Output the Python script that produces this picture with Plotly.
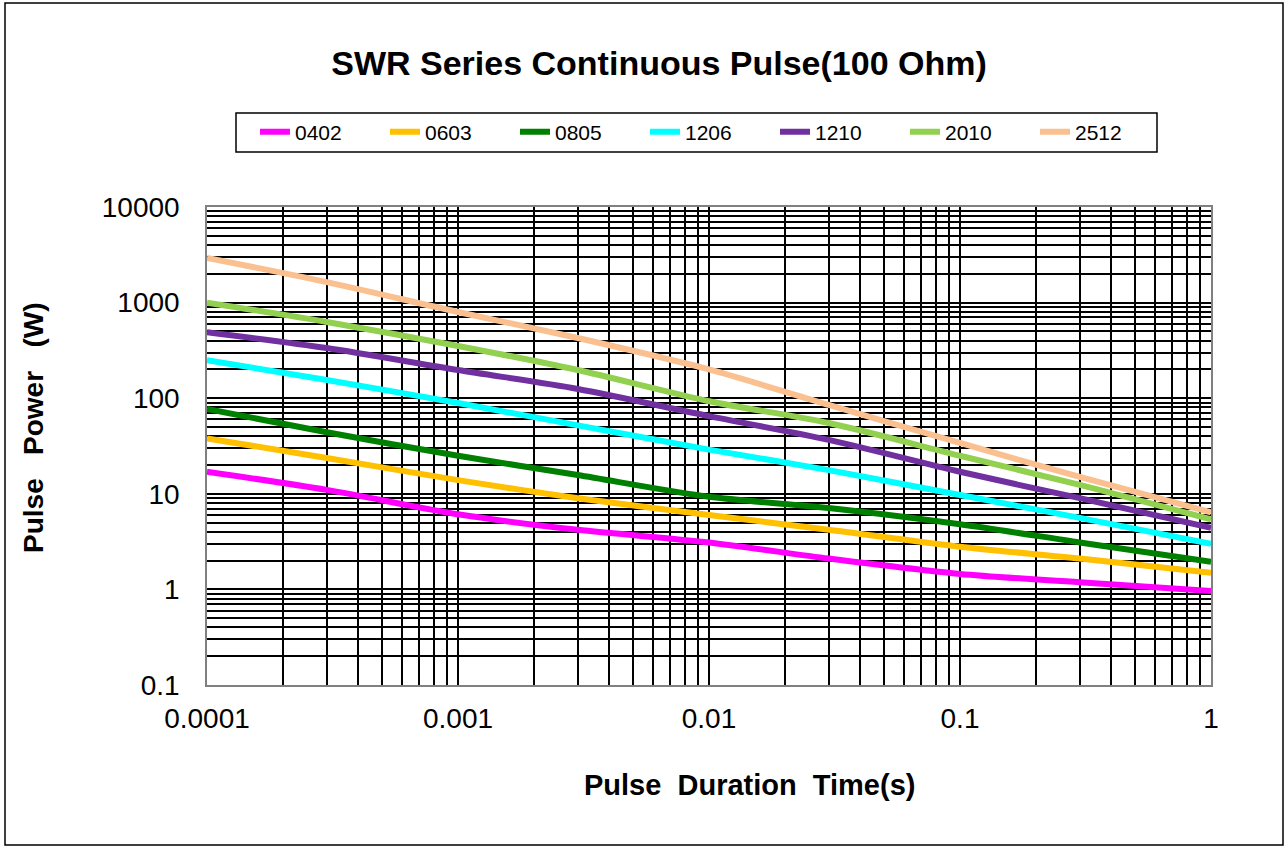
import plotly.graph_objects as go

# ---- data ----
pulse_time = [1e-4, 3e-4, 1e-3, 3e-3, 1e-2, 3e-2, 1e-1, 3e-1, 1.0]
series_names = ["0402", "0603", "0805", "1206", "1210", "2010", "2512"]
p_0402 = [17, 11, 6.1, 4.2, 3.1, 2.1, 1.45, 1.19, 0.96]
p_0603 = [38, 23.7, 13.9, 9.0, 6.0, 4.2, 2.8, 2.1, 1.49]
p_0805 = [77, 44, 25, 15.7, 9.3, 7.1, 4.8, 3.1, 1.94]
p_1206 = [250, 155, 89, 52, 29, 17.7, 9.7, 5.6, 3.0]
p_1210 = [490, 335, 197, 125, 65, 36.6, 17, 9.0, 4.4]
p_2010 = [1000, 627, 352, 197, 93, 55, 25, 12.4, 5.4]
p_2512 = [2930, 1640, 798, 426, 200, 85, 34, 15, 6.4]
series_values = [p_0402, p_0603, p_0805, p_1206, p_1210, p_2010, p_2512]
colors = ["#FF00FF", "#FFC000", "#008000", "#00FFFF", "#7030A0", "#92D050", "#FAC090"]

x_tickvals = [1e-4, 1e-3, 1e-2, 1e-1, 1]
x_ticktext = ["0.0001", "0.001", "0.01", "0.1", "1"]
y_tickvals = [0.1, 1, 10, 100, 1000, 10000]
y_ticktext = ["0.1", "1", "10", "100", "1000", "10000"]

FONT = "Arial, Liberation Sans, sans-serif"

def minor_vals(decades):
    out = []
    for d in decades:
        for k in range(2, 10):
            out.append(k * d)
    return out

fig = go.Figure()
for name, vals, col in zip(series_names, series_values, colors):
    fig.add_trace(go.Scatter(
        x=pulse_time, y=vals, name=name, mode="lines",
        line=dict(color=col, width=6, shape="spline", smoothing=0.8),
    ))

W, H = 1287, 849
L, R, T, B = 207, 76, 207, 164
pw, ph = W - L - R, H - T - B

def px_x(p):
    return (p - L) / pw

def px_y(p):
    return (H - B - p) / ph

fig.update_layout(
    width=W, height=H,
    margin=dict(l=L, r=R, t=T, b=B),
    paper_bgcolor="white", plot_bgcolor="white",
    font=dict(family=FONT, color="black"),
    title=dict(text="<b>SWR Series Continuous Pulse(100 Ohm)</b>",
               font=dict(size=34, family=FONT, color="black"),
               x=659 / W, xref="container", xanchor="center",
               y=1 - 63 / H, yref="container", yanchor="middle"),
    legend=dict(orientation="h", x=px_x(255), y=px_y(132),
                xanchor="left", yanchor="middle",
                bgcolor="rgba(0,0,0,0)", borderwidth=0,
                font=dict(size=21, family=FONT, color="black"),
                entrywidth=85, entrywidthmode="pixels",
                tracegroupgap=0),
    showlegend=True,
)

fig.update_xaxes(
    type="log", range=[-4, 0],
    tickmode="array", tickvals=x_tickvals, ticktext=x_ticktext,
    tickfont=dict(size=28, family=FONT, color="black"),
    ticklabelstandoff=8,
    showgrid=True, gridcolor="black", gridwidth=1.5,
    minor=dict(tickmode="array", tickvals=minor_vals([1e-4, 1e-3, 1e-2, 1e-1]),
               showgrid=True, gridcolor="black", gridwidth=1.5),
    showline=True, linecolor="#808080", linewidth=1.5, mirror=True,
    zeroline=False,
)
fig.update_yaxes(
    type="log", range=[-1, 4],
    tickmode="array", tickvals=y_tickvals, ticktext=y_ticktext,
    tickfont=dict(size=28, family=FONT, color="black"),
    ticklabelstandoff=20,
    showgrid=True, gridcolor="black", gridwidth=1.5,
    minor=dict(tickmode="array", tickvals=minor_vals([0.1, 1, 10, 100, 1000]),
               showgrid=True, gridcolor="black", gridwidth=1.5),
    showline=True, linecolor="#808080", linewidth=1.5, mirror=True,
    zeroline=False,
)

# axis titles (positioned as in the reference, off-centre)
fig.add_annotation(text="<b>Pulse  Duration  Time(s)</b>", xref="paper", yref="paper",
                   x=px_x(749), y=px_y(785), showarrow=False,
                   xanchor="center", yanchor="middle",
                   font=dict(size=29, family=FONT, color="black"))
fig.add_annotation(text="<b>Pulse   Power   (W)</b>", xref="paper", yref="paper",
                   x=px_x(33), y=px_y(428), showarrow=False, textangle=-90,
                   xanchor="center", yanchor="middle",
                   font=dict(size=28, family=FONT, color="black"))

# legend frame
fig.add_shape(type="rect", xref="paper", yref="paper",
              x0=px_x(236), x1=px_x(1157), y0=px_y(152), y1=px_y(113),
              line=dict(color="black", width=1.5), fillcolor="white",
              layer="below")

# outer chart border
fig.add_shape(type="rect", xref="paper", yref="paper",
              x0=px_x(5), x1=px_x(1283), y0=px_y(845), y1=px_y(3),
              line=dict(color="black", width=1.5), fillcolor="rgba(0,0,0,0)",
              layer="below")

fig.write_html("out.html", config={"displayModeBar": False},
               post_script="document.body.style.margin='0';")
